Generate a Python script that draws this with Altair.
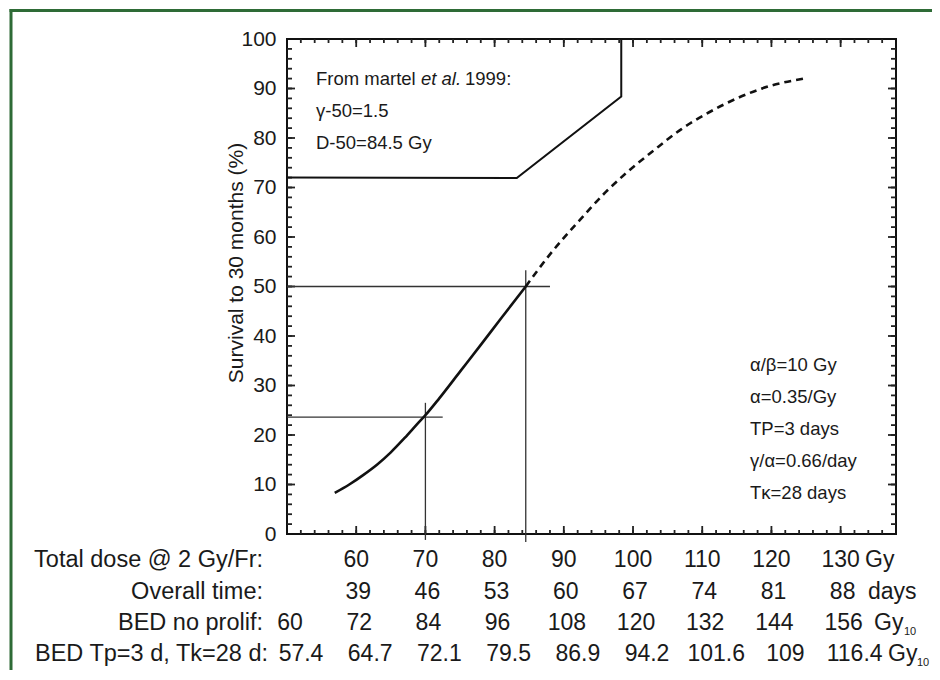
import altair as alt
import pandas as pd

# ---------------- data ----------------
X_DOMAIN = [50, 138]
Y_DOMAIN = [0, 100]

# solid part of the dose-response curve
solid_dose = [56.9, 59.0, 61.0, 63.0, 65.0, 67.0, 69.0, 70.0, 72.0, 75.0, 78.0, 81.0, 84.5]
solid_surv = [8.3, 10.0, 11.9, 14.0, 16.5, 19.4, 22.5, 24.0, 27.4, 32.8, 38.2, 43.7, 50.0]

# dashed extrapolation
dash_dose = [84.5, 88.0, 92.3, 96.0, 99.0, 103.0, 107.0, 111.0, 115.0, 120.0, 124.7]
dash_surv = [50.0, 56.5, 63.4, 69.0, 72.9, 77.5, 81.8, 85.2, 88.0, 90.6, 92.0]

# upper polyline
upper_dose = [50.0, 83.2, 98.3, 98.3]
upper_surv = [72.0, 71.9, 88.4, 100.0]

# cross-hair reference lines
h_y = [23.6, 50.0]
h_x1 = [50.0, 50.0]
h_x2 = [72.5, 88.0]
v_x = [70.0, 84.5]
v_y1 = [-1.2, -1.6]
v_y2 = [26.5, 53.3]

# tick values
x_minor = list(range(52, 138, 2))
x_major = list(range(60, 131, 10))
y_minor = list(range(2, 100, 2))
y_major = list(range(10, 91, 10))
y_labels = list(range(0, 101, 10))

# table under the plot
col_dose = [50, 60, 70, 80, 90, 100, 110, 120, 130]
row_labels = ["Total dose @ 2 Gy/Fr:", "Overall time:", "BED no prolif:", "BED Tp=3 d, Tk=28 d:"]
row_total = ["", "60", "70", "80", "90", "100", "110", "120", "130"]
row_time = ["", "39", "46", "53", "60", "67", "74", "81", "88"]
row_bed = ["60", "72", "84", "96", "108", "120", "132", "144", "156"]
row_bedp = ["57.4", "64.7", "72.1", "79.5", "86.9", "94.2", "101.6", "109", "116.4"]
row_units = ["Gy", "days", "Gy", "Gy"]
row_subs = ["", "", "10", "10"]

note_left = ["γ-50=1.5", "D-50=84.5 Gy"]
note_right = ["α/β=10 Gy", "α=0.35/Gy", "TP=3 days", "γ/α=0.66/day", "Tκ=28 days"]
y_title = "Survival to 30 months (%)"

# ---------------- chart ----------------
W, H = 609, 495
FONT = "Liberation Sans"
INK = "#1a1a1a"
GREEN = "#2e6b36"

xs = alt.Scale(domain=X_DOMAIN, nice=False, zero=False)
ys = alt.Scale(domain=Y_DOMAIN, nice=False, zero=False)
yaxis = alt.Axis(values=y_labels, labelFontSize=21, labelFont=FONT,
                 labelColor=INK, labelPadding=11, ticks=False, domain=False,
                 grid=False, title=None)

one = pd.DataFrame({"a": [0]})


def xq(f):
    return alt.X(f, type="quantitative", scale=xs, axis=None)


def yq(f):
    return alt.Y(f, type="quantitative", scale=ys, axis=yaxis)


layers = []

# y axis carrier
layers.append(alt.Chart(pd.DataFrame({"v": y_labels})).mark_point(opacity=0)
              .encode(y=yq("v")))

# inward ticks on all four sides
tick_style = dict(color="#222", strokeWidth=1.8)
for vals, ln in [(y_minor, 5), (y_major, 8)]:
    d = pd.DataFrame({"v": vals})
    layers.append(alt.Chart(d).mark_rule(**tick_style).encode(
        y=yq("v"), x=alt.value(0), x2=alt.value(ln)))
    layers.append(alt.Chart(d).mark_rule(**tick_style).encode(
        y=yq("v"), x=alt.value(W), x2=alt.value(W - ln)))
for vals, ln in [(x_minor, 4), (x_major, 8)]:
    d = pd.DataFrame({"v": vals})
    layers.append(alt.Chart(d).mark_rule(**tick_style).encode(
        x=xq("v"), y=alt.value(H), y2=alt.value(H - ln)))
    layers.append(alt.Chart(d).mark_rule(**tick_style).encode(
        x=xq("v"), y=alt.value(0), y2=alt.value(ln)))

# cross-hairs
hd = pd.DataFrame({"y": h_y, "x1": h_x1, "x2": h_x2})
vd = pd.DataFrame({"x": v_x, "y1": v_y1, "y2": v_y2})
layers.append(alt.Chart(hd).mark_rule(color="#333", strokeWidth=1.3).encode(
    y=yq("y"), x=xq("x1"), x2="x2"))
layers.append(alt.Chart(vd).mark_rule(color="#333", strokeWidth=1.3).encode(
    x=xq("x"), y=yq("y1"), y2="y2"))

# curves
sd = pd.DataFrame({"d": solid_dose, "s": solid_surv, "o": range(len(solid_dose))})
dd = pd.DataFrame({"d": dash_dose, "s": dash_surv, "o": range(len(dash_dose))})
ud = pd.DataFrame({"d": upper_dose, "s": upper_surv, "o": range(len(upper_dose))})
layers.append(alt.Chart(sd).mark_line(color="#111", strokeWidth=2.6, interpolate="monotone")
              .encode(x=xq("d"), y=yq("s"), order="o:Q"))
layers.append(alt.Chart(dd).mark_line(color="#111", strokeWidth=2.6, strokeDash=[7, 5],
                                      interpolate="monotone")
              .encode(x=xq("d"), y=yq("s"), order="o:Q"))
layers.append(alt.Chart(ud).mark_line(color="#111", strokeWidth=2)
              .encode(x=xq("d"), y=yq("s"), order="o:Q"))

# annotations top-left
txt = dict(font=FONT, color=INK, baseline="middle", align="left")
layers.append(alt.Chart(one).mark_text(fontSize=18.5, **txt).encode(
    x=alt.value(29), y=alt.value(40), text=alt.value("From martel")))
layers.append(alt.Chart(one).mark_text(fontSize=18.5, fontStyle="italic", **txt).encode(
    x=alt.value(134), y=alt.value(40), text=alt.value("et al.")))
layers.append(alt.Chart(one).mark_text(fontSize=18.5, **txt).encode(
    x=alt.value(178), y=alt.value(40), text=alt.value("1999:")))
for i, t in enumerate(note_left):
    layers.append(alt.Chart(one).mark_text(fontSize=18.5, **txt).encode(
        x=alt.value(29), y=alt.value(72 + 32 * i), text=alt.value(t)))

# annotations right
for i, t in enumerate(note_right):
    layers.append(alt.Chart(one).mark_text(fontSize=18.5, **txt).encode(
        x=alt.value(463), y=alt.value(326 + 32 * i), text=alt.value(t)))

# y title
layers.append(alt.Chart(one).mark_text(fontSize=21, font=FONT, color=INK, angle=270,
                                       align="center", baseline="middle").encode(
    x=alt.value(-50), y=alt.value(224), text=alt.value(y_title)))

# table
row_y = [521, 553, 584, 615]
row_dx = [0, 2, 3, 14]
label_x = [-24, -24, -24, -19]
rows = [row_total, row_time, row_bed, row_bedp]
for r in range(4):
    d = pd.DataFrame({"dose": col_dose, "t": rows[r]})
    d = d[d["t"] != ""]
    layers.append(alt.Chart(d).mark_text(fontSize=23, font=FONT, color=INK, align="center",
                                         baseline="middle", dx=row_dx[r]).encode(
        x=xq("dose"), y=alt.value(row_y[r]), text="t:N"))
    layers.append(alt.Chart(one).mark_text(fontSize=23.5, font=FONT, color=INK, align="right",
                                           baseline="middle").encode(
        x=alt.value(label_x[r]), y=alt.value(row_y[r]), text=alt.value(row_labels[r])))

unit_x = [578, 581, 587, 601]
sub_x = [None, None, 617, 630]
for r in range(4):
    layers.append(alt.Chart(one).mark_text(fontSize=23, font=FONT, color=INK, align="left",
                                           baseline="middle").encode(
        x=alt.value(unit_x[r]), y=alt.value(row_y[r]), text=alt.value(row_units[r])))
    if row_subs[r]:
        layers.append(alt.Chart(one).mark_text(fontSize=11, font=FONT, color=INK, align="left",
                                               baseline="middle").encode(
            x=alt.value(sub_x[r]), y=alt.value(row_y[r] + 9), text=alt.value(row_subs[r])))

# green frame (left and top edges visible in the figure)
layers.append(alt.Chart(one).mark_rule(color=GREEN, strokeWidth=3).encode(
    x=alt.value(-276), y=alt.value(-30), y2=alt.value(640)))
layers.append(alt.Chart(one).mark_rule(color=GREEN, strokeWidth=3).encode(
    y=alt.value(-28.5), x=alt.value(-277.5), x2=alt.value(660)))

chart = alt.layer(*layers).properties(
    width=W, height=H,
    autosize=alt.AutoSizeParams(type="none"),
    padding={"left": 279, "top": 31, "right": 36, "bottom": 136},
    background="white",
).configure_view(stroke="#111", strokeWidth=2)

chart.save("out.html", embed_options={"renderer": "svg", "actions": False})
